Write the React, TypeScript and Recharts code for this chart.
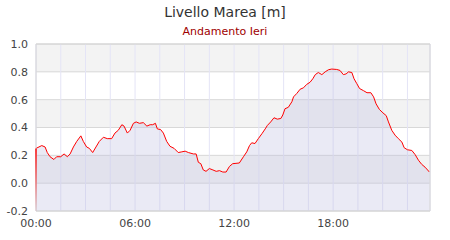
import {
  Area,
  AreaChart,
  CartesianGrid,
  ReferenceArea,
  ReferenceLine,
  XAxis,
  YAxis,
} from "recharts";

// minutes since midnight
const MINUTES = [
  0, 21, 33, 41, 51, 65, 75, 90, 102, 114, 124, 136, 148, 163, 172, 184, 194,
  206, 218, 230, 245, 259, 275, 287, 299, 312, 320, 332, 342, 354, 364, 376,
  390, 403, 415, 424, 434, 441, 453, 463, 475, 487, 502, 517, 530, 542, 554,
  572, 582, 590, 599, 608, 618, 630, 643, 655, 667, 679, 691, 703, 715, 739,
  754, 766, 776, 784, 796, 808, 821, 833, 841, 853, 865, 877, 890, 897, 905,
  917, 930, 936, 948, 960, 972, 984, 996, 1006, 1015, 1026, 1039, 1051, 1063,
  1075, 1093, 1105, 1117, 1127, 1136, 1148, 1156, 1166, 1176, 1190, 1203, 1217,
  1227, 1236, 1248, 1261, 1273, 1281, 1293, 1305, 1317, 1330, 1338, 1350, 1366,
  1378, 1390, 1402, 1414, 1430,
];

const LEVEL = [
  0.25, 0.27, 0.26, 0.22, 0.19, 0.17, 0.19, 0.19, 0.21, 0.19, 0.21, 0.26, 0.3,
  0.34, 0.3, 0.26, 0.25, 0.22, 0.26, 0.3, 0.33, 0.32, 0.32, 0.36, 0.38, 0.42,
  0.41, 0.36, 0.38, 0.43, 0.44, 0.43, 0.435, 0.41, 0.42, 0.42, 0.43, 0.39,
  0.385, 0.36, 0.3, 0.265, 0.25, 0.22, 0.225, 0.23, 0.22, 0.21, 0.21, 0.15,
  0.14, 0.095, 0.085, 0.105, 0.095, 0.085, 0.09, 0.08, 0.08, 0.12, 0.14, 0.145,
  0.19, 0.225, 0.27, 0.29, 0.285, 0.32, 0.355, 0.39, 0.415, 0.44, 0.47, 0.46,
  0.465, 0.49, 0.535, 0.545, 0.585, 0.62, 0.645, 0.675, 0.685, 0.71, 0.725,
  0.75, 0.78, 0.795, 0.78, 0.8, 0.815, 0.82, 0.817, 0.81, 0.78, 0.785, 0.8,
  0.795, 0.75, 0.715, 0.68, 0.665, 0.65, 0.65, 0.62, 0.57, 0.53, 0.505, 0.485,
  0.44, 0.38, 0.345, 0.32, 0.295, 0.255, 0.24, 0.235, 0.205, 0.165, 0.135,
  0.115, 0.08,
];

const X_TICKS = [0, 90, 180, 270, 360, 450, 540, 630, 720, 810, 900, 990, 1080, 1170, 1260, 1350];
const X_LABEL_EVERY = 360;
const Y_TICKS = [-0.2, 0, 0.2, 0.4, 0.6, 0.8, 1.0];
const X_END = 1432;

const data = MINUTES.map((m, i) => ({ m, level: LEVEL[i] }));

function formatTime(m: number) {
  if (m % X_LABEL_EVERY !== 0) return "";
  const h = Math.floor(m / 60);
  const mm = m % 60;
  return `${String(h).padStart(2, "0")}:${String(mm).padStart(2, "0")}`;
}

const FONT = "'DejaVu Sans', sans-serif";

export default function App() {
  return (
    <div
      style={{
        position: "absolute",
        left: 0,
        top: 0,
        width: 450,
        height: 240,
        background: "#fff",
        fontFamily: FONT,
      }}
    >
      <div
        style={{
          position: "absolute",
          top: 4,
          width: 450,
          textAlign: "center",
          fontSize: 14,
          color: "#333",
        }}
      >
        Livello Marea [m]
      </div>
      <div
        style={{
          position: "absolute",
          top: 25,
          width: 450,
          textAlign: "center",
          fontSize: 11,
          color: "#a00000",
        }}
      >
        Andamento Ieri
      </div>
      <AreaChart
        width={450}
        height={240}
        data={data}
        margin={{ top: 44, right: 20, left: 0, bottom: 0 }}
      >
        <defs>
          <linearGradient id="fade" gradientUnits="userSpaceOnUse" x1="0" y1="147" x2="0" y2="211">
            <stop offset="0%" stopColor="#ff0000" stopOpacity={1} />
            <stop offset="100%" stopColor="#ff0000" stopOpacity={0.05} />
          </linearGradient>
        </defs>
        <CartesianGrid
          vertical={false}
          stroke="#d8d8d8"
          fill="#fff"
          horizontalFill={["#f3f3f3", "#ffffff"]}
          fillOpacity={1}
        />
        <CartesianGrid horizontal={false} stroke="#e4e4f6" />
        <XAxis
          dataKey="m"
          type="number"
          domain={[0, X_END]}
          ticks={X_TICKS}
          tickFormatter={formatTime}
          interval={0}
          tickLine={false}
          axisLine={false}
          height={29}
          tick={{ fontSize: 11, fill: "#444", fontFamily: FONT }}
        />
        <YAxis
          type="number"
          domain={[-0.2, 1.0]}
          ticks={Y_TICKS}
          tickFormatter={(v: number) => v.toFixed(1)}
          interval={0}
          tickLine={false}
          axisLine={false}
          width={36}
          tick={{ fontSize: 11, fill: "#444", fontFamily: FONT }}
        />
        <Area
          type="linear"
          dataKey="level"
          baseValue={-0.2}
          stroke="#ff0000"
          strokeWidth={1}
          fill="#c0c0e0"
          fillOpacity={0.33}
          dot={false}
          activeDot={false}
          isAnimationActive={false}
        />
        <ReferenceLine
          segment={[
            { x: 0, y: -0.2 },
            { x: 0, y: LEVEL[0] },
          ]}
          stroke="url(#fade)"
          strokeWidth={1.5}
        />
        <ReferenceArea
          x1={0}
          x2={X_END}
          y1={-0.2}
          y2={1.0}
          fill="none"
          stroke="#d4d4d4"
          strokeWidth={1}
        />
      </AreaChart>
    </div>
  );
}
